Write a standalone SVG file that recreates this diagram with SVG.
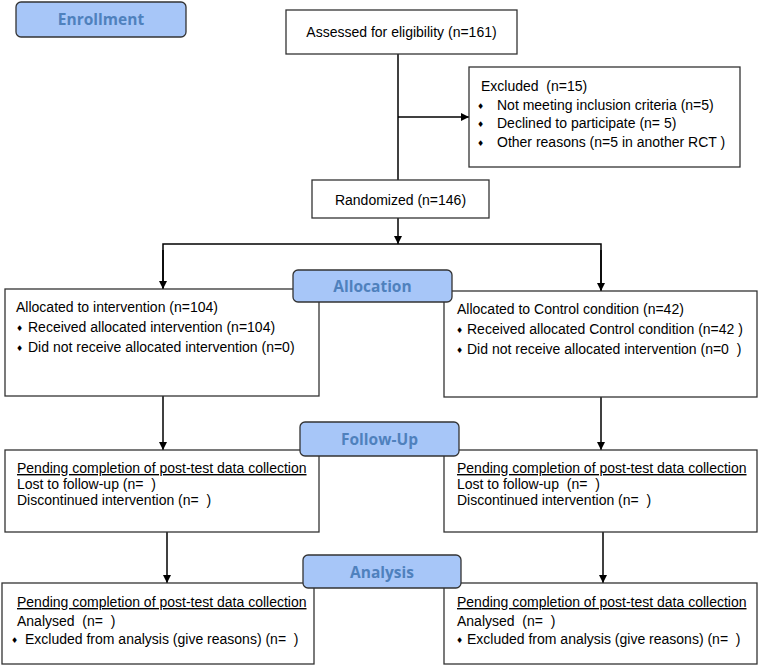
<svg xmlns="http://www.w3.org/2000/svg" width="759" height="666" viewBox="0 0 759 666" xml:space="preserve">
<defs>
<marker id="ah" markerWidth="10" markerHeight="10" refX="9" refY="5" orient="auto" markerUnits="userSpaceOnUse">
<path d="M1,1 L9,5 L1,9 Z" fill="#000"/>
</marker>
<style>
.box{fill:#fff;stroke:#333;stroke-width:1.3}
.lab{fill:#a7c6f8;stroke:#333;stroke-width:1.3}
.lt{font-family:"Open Sans","Noto Sans",sans-serif;font-weight:bold;font-size:15.5px;fill:#4f81bd;text-anchor:middle}
.t{font-family:"Liberation Sans",Arial,sans-serif;font-size:14px;fill:#000;white-space:pre}
.b{font-family:"DejaVu Sans",sans-serif;font-size:8px;fill:#000}
.c{stroke:#000;stroke-width:1.5;fill:none}
.u{text-decoration:underline}
</style>
</defs>
<g id="connectors">
<line class="c" x1="398" y1="54" x2="398" y2="180"/>
<line class="c" x1="398" y1="117" x2="469" y2="117" marker-end="url(#ah)"/>
<line class="c" x1="398" y1="218" x2="398" y2="244" marker-end="url(#ah)"/>
<polyline class="c" points="163,289 163,244 601,244 601,291"/>
<line class="c" x1="163" y1="250" x2="163" y2="289" marker-end="url(#ah)"/>
<line class="c" x1="601" y1="250" x2="601" y2="291" marker-end="url(#ah)"/>
<line class="c" x1="163" y1="396" x2="163" y2="450" marker-end="url(#ah)"/>
<line class="c" x1="601" y1="397" x2="601" y2="450" marker-end="url(#ah)"/>
<line class="c" x1="167" y1="532" x2="167" y2="583" marker-end="url(#ah)"/>
<line class="c" x1="603" y1="532" x2="603" y2="583" marker-end="url(#ah)"/>
</g>
<g id="enrollment">
<rect class="lab" x="16" y="2" width="170" height="35" rx="5"/>
<text class="lt" x="101" y="25">Enrollment</text>
</g>
<g id="assessed">
<rect class="box" x="286" y="10" width="231" height="44"/>
<text class="t" x="401.5" y="37" text-anchor="middle">Assessed for eligibility (n=161)</text>
</g>
<g id="excluded">
<rect class="box" x="469" y="67" width="271" height="100"/>
<text class="t" x="481" y="91">Excluded  (n=15)</text>
<text class="b" x="477" y="109">♦</text><text class="t" x="497" y="110">Not meeting inclusion criteria (n=5)</text>
<text class="b" x="477" y="127">♦</text><text class="t" x="497" y="128">Declined to participate (n= 5)</text>
<text class="b" x="477" y="146">♦</text><text class="t" x="497" y="147">Other reasons (n=5 in another RCT )</text>
</g>
<g id="randomized">
<rect class="box" x="312" y="180" width="177" height="38"/>
<text class="t" x="400.5" y="205" text-anchor="middle">Randomized (n=146)</text>
</g>
<g id="alloc-left">
<rect class="box" x="5" y="289" width="314" height="107"/>
<text class="t" x="16" y="312">Allocated to intervention (n=104)</text>
<text class="b" x="16" y="331">♦</text><text class="t" x="28" y="332">Received allocated intervention (n=104)</text>
<text class="b" x="16" y="351">♦</text><text class="t" x="28" y="352">Did not receive allocated intervention (n=0)</text>
</g>
<g id="alloc-right">
<rect class="box" x="444" y="291" width="313" height="106"/>
<text class="t" x="457" y="314">Allocated to Control condition (n=42)</text>
<text class="b" x="456" y="333">♦</text><text class="t" x="467" y="334">Received allocated Control condition (n=42 )</text>
<text class="b" x="456" y="353">♦</text><text class="t" x="467" y="354">Did not receive allocated intervention (n=0  )</text>
</g>
<g id="allocation">
<rect class="lab" x="293" y="270" width="159" height="32" rx="5"/>
<text class="lt" x="372.5" y="292">Allocation</text>
</g>
<g id="follow-left">
<rect class="box" x="5" y="450" width="314" height="82"/>
<text class="t u" x="17" y="473">Pending completion of post-test data collection</text>
<text class="t" x="17" y="489">Lost to follow-up (n=  )</text>
<text class="t" x="17" y="505">Discontinued intervention (n=  )</text>
</g>
<g id="follow-right">
<rect class="box" x="444" y="450" width="313" height="82"/>
<text class="t u" x="457" y="473">Pending completion of post-test data collection</text>
<text class="t" x="457" y="489">Lost to follow-up  (n=  )</text>
<text class="t" x="457" y="505">Discontinued intervention (n=  )</text>
</g>
<g id="followup">
<rect class="lab" x="300" y="422" width="159" height="34" rx="5"/>
<text class="lt" x="379.5" y="445">Follow-Up</text>
</g>
<g id="analysis-left">
<rect class="box" x="2" y="583" width="312" height="81"/>
<text class="t u" x="17" y="607">Pending completion of post-test data collection</text>
<text class="t" x="17" y="626">Analysed  (n=  )</text>
<text class="b" x="11" y="643">♦</text><text class="t" x="25" y="644">Excluded from analysis (give reasons) (n=  )</text>
</g>
<g id="analysis-right">
<rect class="box" x="444" y="583" width="313" height="81"/>
<text class="t u" x="457" y="607">Pending completion of post-test data collection</text>
<text class="t" x="457" y="626">Analysed  (n=  )</text>
<text class="b" x="456" y="643">♦</text><text class="t" x="467" y="644">Excluded from analysis (give reasons) (n=  )</text>
</g>
<g id="analysis">
<rect class="lab" x="303" y="555" width="158" height="33" rx="5"/>
<text class="lt" x="382" y="578">Analysis</text>
</g>
</svg>
